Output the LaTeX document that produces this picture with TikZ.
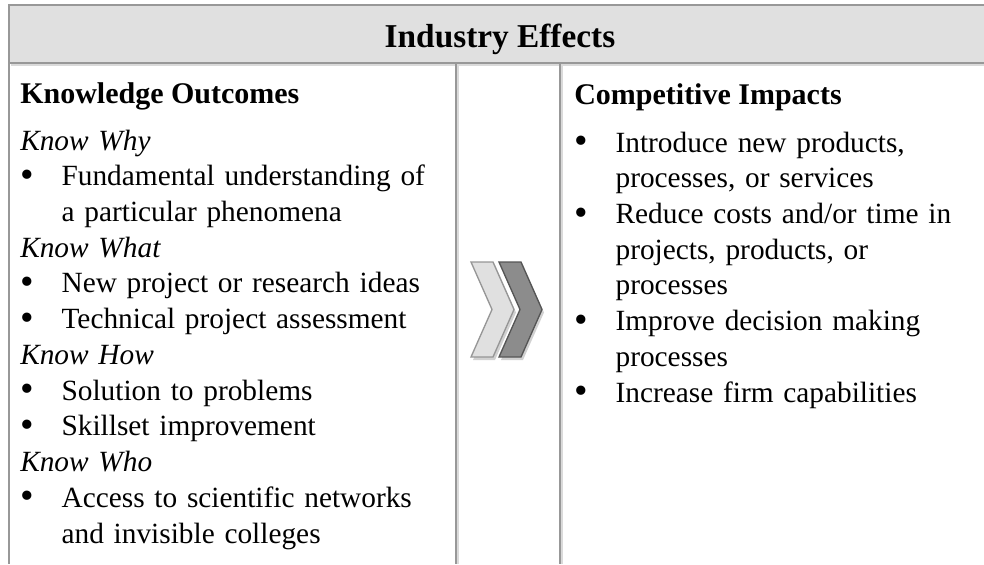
\documentclass[tikz,border=0pt]{standalone}
\usepackage{fontspec}
\setmainfont{Liberation Serif}
\usepackage{xcolor}
\usepackage{tikz}

\definecolor{framegray}{RGB}{152,152,152}
\definecolor{headgray}{RGB}{224,224,224}
\definecolor{shadowgray}{RGB}{218,218,218}
\definecolor{chevlight}{RGB}{224,224,224}
\definecolor{chevlightline}{RGB}{150,150,150}
\definecolor{chevdark}{RGB}{140,140,140}
\definecolor{chevdarkline}{RGB}{85,85,85}

\newcommand{\bitem}{\makebox[31pt][l]{\raisebox{-1.2pt}{\fontsize{29}{0}\selectfont\textbullet}}}
\newcommand{\bgap}{\hspace*{31pt}}

\begin{document}
\begin{tikzpicture}[
    x                   = 0.75pt,
    y                   = -0.75pt,
    every node/.style   = {inner sep=0pt, font=\fontsize{22}{26.8}\selectfont},
    framerule/.style    = {draw=framegray, line width=1.5pt},
    lineshadow/.style   = {draw=shadowgray, line width=1.5pt},
    colhead/.style      = {anchor=base west, font=\fontsize{22.5}{26.8}\selectfont\bfseries},
    collist/.style      = {anchor=base west, align=left, text width=330pt},
    chevshadow/.style   = {fill=black!18, shift={(2,3)}},
  ]
\useasboundingbox (0,0) rectangle (984,564);

% header band and frame
\fill[headgray] (8.5,5) rectangle (984,63);
\draw[lineshadow] (10.5,65) -- (984,65);
\draw[lineshadow] (458,65) -- (458,564);
\draw[lineshadow] (562,65) -- (562,564);
\draw[framerule] (984,5) -- (8.5,5) -- (8.5,564);
\draw[framerule] (8.5,63) -- (984,63);
\draw[framerule] (456,63) -- (456,564);
\draw[framerule] (560,63) -- (560,564);

\node[anchor=base, font=\fontsize{25}{30}\selectfont\bfseries] (title) at (500,47) {Industry Effects};

% left column
\node[colhead] (knowhead) at (20,103) {Knowledge Outcomes};
\node[collist] (knowlist) at (20,150) {\textit{Know Why}\\
    \bitem Fundamental understanding of\\
    \bgap a particular phenomena\\
    \textit{Know What}\\
    \bitem New project or research ideas\\
    \bitem Technical project assessment\\
    \textit{Know How}\\
    \bitem Solution to problems\\
    \bitem Skillset improvement\\
    \textit{Know Who}\\
    \bitem Access to scientific networks\\
    \bgap and invisible colleges};

% chevrons
\fill[chevshadow] (471,262) -- (493,262) -- (514,309.5) -- (493,357) -- (471,357) -- (492,309.5) -- cycle;
\fill[chevshadow] (499,262) -- (521,262) -- (542,309.5) -- (521,357) -- (499,357) -- (520,309.5) -- cycle;
\draw[fill=chevlight, draw=chevlightline, line width=1pt] (471,262) -- (493,262) -- (514,309.5) -- (493,357) -- (471,357) -- (492,309.5) -- cycle;
\draw[fill=chevdark, draw=chevdarkline, line width=1pt] (499,262) -- (521,262) -- (542,309.5) -- (521,357) -- (499,357) -- (520,309.5) -- cycle;

% right column
\node[colhead] (impacthead) at (574,104) {Competitive Impacts};
\node[collist, text width=300pt] (impactlist) at (574,152) {\bitem Introduce new products,\\
    \bgap processes, or services\\
    \bitem Reduce costs and/or time in\\
    \bgap projects, products, or\\
    \bgap processes\\
    \bitem Improve decision making\\
    \bgap processes\\
    \bitem Increase firm capabilities};
\end{tikzpicture}
\end{document}
